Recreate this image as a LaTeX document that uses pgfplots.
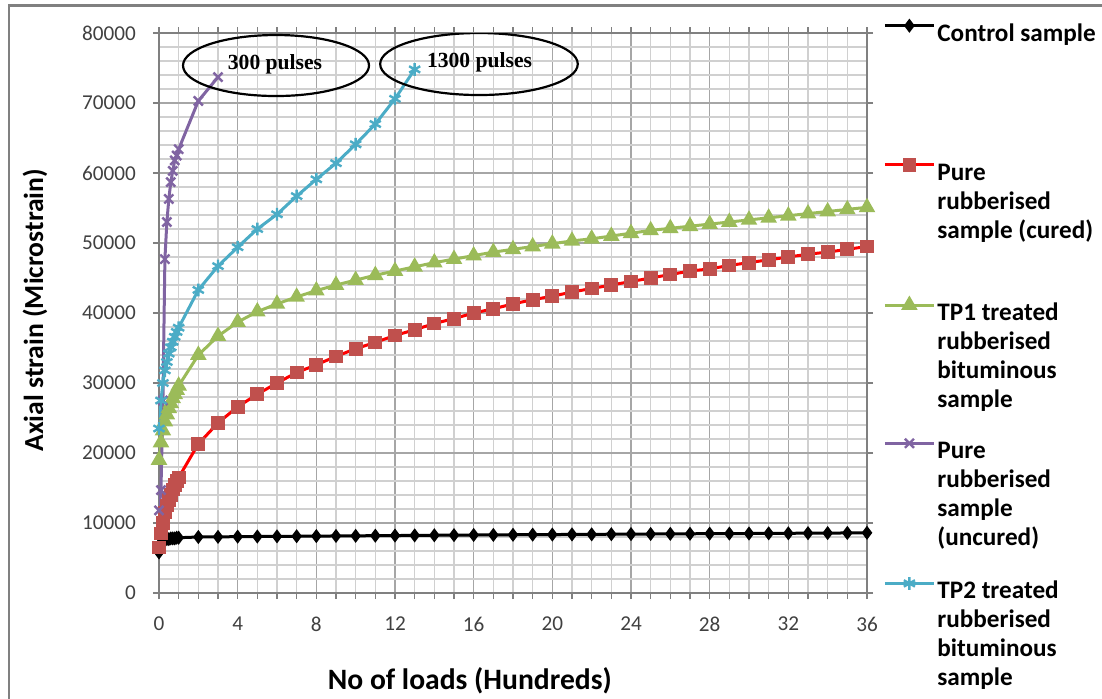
\documentclass[border=0pt]{standalone}
\usepackage{fontspec}
\setmainfont{Carlito}
\newfontfamily\serifb{Liberation Serif}
\usepackage{pgfplots}
\pgfplotsset{compat=1.18}
\definecolor{cred}{HTML}{C0504D}
\definecolor{cgreen}{HTML}{9BBB59}
\definecolor{cpurple}{HTML}{8064A2}
\definecolor{ccyan}{HTML}{4BACC6}
\definecolor{gridmaj}{HTML}{A6A6A6}
\definecolor{gridmin}{HTML}{D0D0D0}
\definecolor{tickc}{HTML}{404040}
\newcommand{\lgtxt}[1]{\raisebox{0pt}[9pt][0pt]{\parbox[t]{100pt}{\raggedright #1}}}
\begin{document}
\begin{tikzpicture}
\path[use as bounding box] (-79.5pt,-52.5pt) rectangle (471.5pt,296.5pt);
\draw[color=gray, line width=1.2pt] (-75pt,-53pt) -- (-75pt,293.8pt) -- (472pt,293.8pt);
\begin{axis}[
  scale only axis,
  width=354pt, height=280pt,
  xmin=0, xmax=36, ymin=0, ymax=80000,
  xtick={0,4,...,36}, minor x tick num=3,
  ytick={0,10000,...,80000}, minor y tick num=4,
  grid=both,
  major grid style={draw=gridmaj, line width=0.6pt},
  minor grid style={draw=gridmin, line width=0.6pt},
  axis line style={draw=gray, line width=0.8pt},
  tick align=outside,
  major tick length=3pt, minor tick length=3pt,
  tick style={draw=gray, line width=0.6pt},
  minor y tick style={draw=none},
  scaled y ticks=false,
  yticklabel style={/pgf/number format/set thousands separator={}, /pgf/number format/fixed, font=\fontsize{10.6}{12}\selectfont, text=tickc, xshift=-5pt},
  xticklabel style={font=\fontsize{10.6}{12}\selectfont, text=tickc, yshift=-5.5pt},
  /pgf/number format/assume math mode=true,
  xlabel={\bfseries No of loads (Hundreds)},
  ylabel={\bfseries Axial strain (Microstrain)},
  x label style={font=\fontsize{14.8}{16}\selectfont, at={(axis description cs:0.439,-0.157)}, anchor=center},
  y label style={font=\fontsize{13.8}{16}\selectfont, at={(axis description cs:-0.175,0.505)}, anchor=center},
  legend style={at={(axis description cs:1.0226,1.022)}, anchor=north west, draw=none, fill=none, inner sep=0pt, row sep=57.7pt, column sep=1pt, nodes={inner sep=0pt}, font=\bfseries\fontsize{12.6}{14.5}\selectfont},
  legend cell align=left,
  legend image code/.code={\draw[mark repeat=2,mark phase=2,#1] plot coordinates {(0pt,3.9pt) (12.25pt,3.9pt) (24.5pt,3.9pt)};},
  every axis plot/.append style={line width=1.5pt},
]
\addplot[black, mark=diamond*, mark size=2.3pt, mark options={fill=black}] coordinates {
(0,5800)(0.1,7200)(0.2,7500)(0.3,7600)(0.4,7700)(0.5,7700)(0.6,7800)(0.7,7800)(0.8,7800)(0.9,7900)(1,7900)
(2,8000)(3,8020)(4,8050)(5,8070)(6,8090)(7,8110)(8,8130)(9,8150)(10,8170)(11,8190)(12,8210)(13,8230)(14,8250)(15,8270)(16,8290)(17,8300)(18,8320)(19,8340)(20,8350)(21,8370)(22,8380)(23,8400)(24,8420)(25,8430)(26,8450)(27,8460)(28,8480)(29,8490)(30,8500)(31,8520)(32,8530)(33,8550)(34,8560)(35,8580)(36,8600)};
\addlegendentry{\lgtxt{Control sample}}
\addplot[red, mark=square*, mark size=2.7pt, mark options={fill=cred, draw=cred}] coordinates {
(0,6500)(0.1,8500)(0.2,10000)(0.3,11500)(0.4,12500)(0.5,13300)(0.6,14000)(0.7,14800)(0.8,15400)(0.9,16000)(1,16500)
(2,21300)(3,24300)(4,26600)(5,28400)(6,30000)(7,31500)(8,32600)(9,33800)(10,34900)(11,35800)(12,36800)(13,37600)(14,38500)(15,39200)(16,40000)(17,40600)(18,41300)(19,41900)(20,42400)(21,43000)(22,43500)(23,44000)(24,44500)(25,45000)(26,45500)(27,46000)(28,46300)(29,46800)(30,47200)(31,47600)(32,48000)(33,48400)(34,48700)(35,49100)(36,49500)};
\addlegendentry{\lgtxt{Pure\\rubberised\\sample (cured)}}
\addplot[cgreen, mark=triangle*, mark size=3.3pt, mark options={fill=cgreen, draw=cgreen}] coordinates {
(0,19000)(0.1,21500)(0.2,23200)(0.3,24500)(0.4,25500)(0.5,26400)(0.6,27100)(0.7,27800)(0.8,28400)(0.9,29000)(1,29600)
(2,34000)(3,36700)(4,38700)(5,40200)(6,41300)(7,42300)(8,43200)(9,44000)(10,44700)(11,45400)(12,46000)(13,46600)(14,47200)(15,47700)(16,48200)(17,48700)(18,49100)(19,49500)(20,49900)(21,50300)(22,50600)(23,51000)(24,51400)(25,51800)(26,52100)(27,52400)(28,52700)(29,53000)(30,53300)(31,53600)(32,53900)(33,54200)(34,54500)(35,54800)(36,55100)};
\addlegendentry{\lgtxt{TP1 treated\\rubberised\\bituminous\\sample}}
\addplot[cpurple, mark=x, mark size=3.2pt, mark options={line width=1.2pt}] coordinates {
(0,11800)(0.1,14700)(0.2,27500)(0.3,47700)(0.4,53000)(0.5,56300)(0.6,58700)(0.7,60300)(0.8,61800)(0.9,62500)(1,63400)
(2,70300)(3,73700)};
\addlegendentry{\lgtxt{Pure\\rubberised\\sample\\(uncured)}}
\addplot[ccyan, mark=asterisk, mark size=3.2pt, mark options={line width=1.2pt}] coordinates {
(0,23500)(0.1,27500)(0.2,30000)(0.3,31800)(0.4,33000)(0.5,34200)(0.6,35100)(0.7,35900)(0.8,36600)(0.9,37300)(1,37900)
(2,43300)(3,46700)(4,49400)(5,52000)(6,54100)(7,56700)(8,59100)(9,61400)(10,64100)(11,67000)(12,70600)(13,74800)};
\addlegendentry{\lgtxt{TP2 treated\\rubberised\\bituminous\\sample}}
\draw[black, line width=1.1pt] (axis cs:5.95,75357) ellipse [x radius=46.5pt, y radius=15.25pt];
\draw[black, line width=1.1pt] (axis cs:16.27,75571) ellipse [x radius=49.4pt, y radius=15.5pt];
\node[font=\serifb\bfseries\fontsize{10.8}{12}\selectfont] at (axis cs:5.9,75500) {300 pulses};
\node[font=\serifb\bfseries\fontsize{10.8}{12}\selectfont] at (axis cs:16.3,75800) {1300 pulses};
\end{axis}
\end{tikzpicture}
\end{document}
